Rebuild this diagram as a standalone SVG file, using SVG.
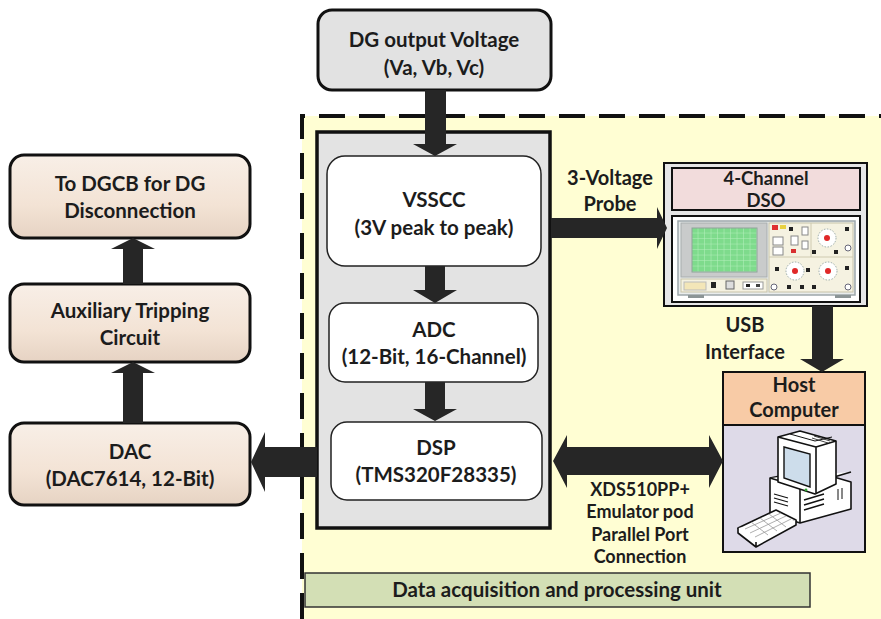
<svg xmlns="http://www.w3.org/2000/svg" width="881" height="619" viewBox="0 0 881 619">
  <style>
    .t { font-family: Lato, "Open Sans", "Liberation Sans", sans-serif; font-weight: bold; font-size: 20.5px; fill: #1c1c1c; text-anchor: middle; }
    .tl { font-family: Lato, "Open Sans", "Liberation Sans", sans-serif; font-weight: bold; font-size: 20px; fill: #1c1c1c; text-anchor: middle; }
    .td { font-family: Lato, "Open Sans", "Liberation Sans", sans-serif; font-weight: bold; font-size: 18.5px; fill: #1c1c1c; text-anchor: middle; }
    .ts { font-family: Lato, "Open Sans", "Liberation Sans", sans-serif; font-weight: bold; font-size: 18px; fill: #1c1c1c; text-anchor: middle; }
    .outer { stroke: #111; stroke-width: 3; }
    .inner { fill: #fff; stroke: #222; stroke-width: 1.5; }
    .arrow { fill: #262626; }
    .icon { fill: #fff; stroke: #111; stroke-width: 1.6; stroke-linejoin: round; }
  </style>
  <defs>
    <linearGradient id="beige" x1="0" y1="0" x2="0" y2="1">
      <stop offset="0" stop-color="#F8EFE7"/>
      <stop offset="0.6" stop-color="#F3E3D5"/>
      <stop offset="1" stop-color="#E6D3C3"/>
    </linearGradient>
    <pattern id="grid" x="692" y="228" width="6.5" height="5.5" patternUnits="userSpaceOnUse">
      <rect width="6.5" height="5.5" fill="#7EDB8C"/>
      <path d="M6.5 0V5.5M0 5.5H6.5" stroke="#B6F0BE" stroke-width="1"/>
    </pattern>
  </defs>

  <rect width="881" height="619" fill="#fff"/>

  <!-- data acquisition region -->
  <g id="daq-region">
    <rect x="302" y="116" width="579" height="503" fill="#FFFED3"/>
    <path d="M302 619V116H881" fill="none" stroke="#111" stroke-width="4" stroke-dasharray="26 14"/>
  </g>

  <g id="daq-label">
    <rect x="305" y="573" width="505" height="34" fill="#D3DFB5" stroke="#333" stroke-width="1.5"/>
    <text class="t" x="557" y="597">Data acquisition and processing unit</text>
  </g>

  <g id="dg-output">
    <rect class="outer" x="318" y="10" width="233" height="80" rx="14" fill="#E2E2E2"/>
    <text class="t" x="434" y="47">DG output Voltage</text>
    <text class="t" x="434" y="75">(Va, Vb, Vc)</text>
  </g>

  <g id="controller">
    <rect x="317" y="132" width="233" height="396" fill="#E3E3E3" stroke="#111" stroke-width="3.5"/>
  </g>

  <g id="vsscc">
    <rect class="inner" x="327" y="156" width="214" height="110" rx="18"/>
    <text class="t" x="434" y="207">VSSCC</text>
    <text class="t" x="434" y="235">(3V peak to peak)</text>
  </g>

  <g id="adc">
    <rect class="inner" x="329" y="303" width="209" height="79" rx="16"/>
    <text class="t" x="434" y="337">ADC</text>
    <text class="t" x="434" y="364">(12-Bit, 16-Channel)</text>
  </g>

  <g id="dsp">
    <rect class="inner" x="331" y="422" width="211" height="78" rx="16"/>
    <text class="t" x="436" y="455">DSP</text>
    <text class="t" x="436" y="482">(TMS320F28335)</text>
  </g>

  <g id="dgcb">
    <rect class="outer" x="10" y="155" width="240" height="83" rx="14" fill="url(#beige)"/>
    <text class="t" x="130" y="191">To DGCB for DG</text>
    <text class="t" x="130" y="218">Disconnection</text>
  </g>

  <g id="aux-trip">
    <rect class="outer" x="10" y="284" width="240" height="78" rx="14" fill="url(#beige)"/>
    <text class="t" x="130" y="318">Auxiliary Tripping</text>
    <text class="t" x="130" y="345">Circuit</text>
  </g>

  <g id="dac">
    <rect class="outer" x="10" y="423" width="240" height="82" rx="14" fill="url(#beige)"/>
    <text class="t" x="130" y="459">DAC</text>
    <text class="t" x="130" y="486">(DAC7614, 12-Bit)</text>
  </g>

  <g id="dso">
    <rect x="664" y="163" width="203" height="143" fill="#E6E6E6" stroke="#111" stroke-width="2"/>
    <rect x="672" y="168" width="188" height="42" fill="#F2DCDC" stroke="#111" stroke-width="2"/>
    <text class="td" x="766" y="185">4-Channel</text>
    <text class="td" x="766" y="207">DSO</text>
    <rect x="672" y="216" width="188" height="86" fill="#fff" stroke="#111" stroke-width="2"/>
    <!-- oscilloscope front panel -->
    <rect x="678" y="221" width="177" height="74" fill="#E9ECEC" stroke="#9DA7AA" stroke-width="1.5"/>
    <rect x="681" y="223" width="86" height="54" fill="#C9CBCB" stroke="#A8ADAE"/>
    <rect x="692" y="228" width="65" height="44" fill="url(#grid)" stroke="#8FA39A"/>
    <rect x="769" y="223" width="84" height="69" fill="#F5F2E1" stroke="#C8C3A8"/>
    <path d="M769 257H853M811 223V257" stroke="#CFCAB0" stroke-width="1"/>
    <rect x="681" y="279" width="86" height="13" fill="#F5F2E1" stroke="#C8C3A8"/>
    <rect x="684" y="282" width="22" height="8" fill="#F3E6B8" stroke="#BBB"/>
    <rect x="711" y="282" width="5" height="6" fill="#222"/>
    <rect x="726" y="281" width="8" height="8" fill="#DDD" stroke="#666"/>
    <rect x="743" y="282" width="20" height="7" fill="#fff" stroke="#999"/>
    <rect x="746" y="284" width="4" height="3" fill="#222"/>
    <rect x="756" y="284" width="4" height="3" fill="#444"/>
    <rect x="772" y="225" width="6" height="5" fill="#E03030"/>
    <rect x="780" y="225" width="6" height="4" fill="#E8D040"/>
    <rect x="789" y="227" width="4" height="4" fill="#222"/>
    <rect x="773" y="237" width="10" height="8" fill="#fff" stroke="#888"/>
    <rect x="773" y="247" width="10" height="8" fill="#fff" stroke="#888"/>
    <rect x="791" y="236" width="7" height="9" fill="#fff" stroke="#888"/>
    <rect x="791" y="249" width="5" height="4" fill="#D83030"/>
    <rect x="802" y="227" width="6" height="8" fill="#fff" stroke="#888"/>
    <rect x="802" y="241" width="6" height="8" fill="#fff" stroke="#888"/>
    <rect x="812" y="250" width="4" height="4" fill="#222"/>
    <rect x="845" y="227" width="4" height="4" fill="#222"/>
    <rect x="834" y="250" width="4" height="4" fill="#222"/>
    <rect x="775" y="267" width="4" height="4" fill="#222"/>
    <rect x="806" y="268" width="4" height="4" fill="#222"/>
    <rect x="845" y="266" width="4" height="4" fill="#222"/>
    <rect x="787" y="285" width="4" height="4" fill="#222"/>
    <rect x="800" y="285" width="4" height="4" fill="#222"/>
    <rect x="812" y="285" width="4" height="4" fill="#222"/>
    <circle cx="827" cy="238" r="9" fill="#fff" stroke="#9AA" stroke-dasharray="1.5 1.5"/>
    <circle cx="827" cy="238" r="3" fill="#E02828"/>
    <circle cx="795" cy="271" r="9" fill="#fff" stroke="#9AA" stroke-dasharray="1.5 1.5"/>
    <circle cx="795" cy="271" r="3" fill="#E02828"/>
    <circle cx="828" cy="271" r="9" fill="#fff" stroke="#9AA" stroke-dasharray="1.5 1.5"/>
    <circle cx="828" cy="271" r="3" fill="#E02828"/>
    <circle cx="848" cy="248" r="3" fill="#fff" stroke="#667"/>
    <circle cx="774" cy="287" r="3" fill="#fff" stroke="#667"/>
    <circle cx="848" cy="287" r="3" fill="#fff" stroke="#667"/>
    <rect x="688" y="295" width="16" height="3" fill="#8C9596"/>
    <rect x="835" y="295" width="16" height="3" fill="#8C9596"/>
  </g>

  <g id="host">
    <rect x="723" y="372" width="142" height="180" fill="#DEDAE8" stroke="#111" stroke-width="2"/>
    <rect x="723" y="372" width="142" height="53" fill="#F8CBA6" stroke="#111" stroke-width="2"/>
    <text class="tl" x="794" y="392">Host</text>
    <text class="tl" x="794" y="417">Computer</text>
    <!-- desktop computer icon -->
    <path class="icon" d="M770 478L810 470L851 482V509L800 523L770 513Z"/>
    <path class="icon" d="M770 478L800 487L851 472M800 487V523"/>
    <path d="M774 494L788 498M774 498L788 502M774 502L788 506" stroke="#111" stroke-width="1.2"/>
    <path d="M804 500L824 494M804 505L824 499M804 510L824 504" stroke="#111" stroke-width="1.5"/>
    <path d="M838 489V500M842 488V499" stroke="#111" stroke-width="1"/>
    <path class="icon" d="M778 437L800 431L836 441V484L815 494L778 482Z"/>
    <path class="icon" d="M778 437L816 447V494M816 447L836 441"/>
    <path d="M790 434L815 441L832 437" fill="none" stroke="#111" stroke-width="1"/>
    <path d="M812 438L828 443M814 436L830 441" stroke="#111" stroke-width="0.8"/>
    <path d="M784 447L810 454V487L784 478Z" fill="#CDDDEB" stroke="#111" stroke-width="1.4"/>
    <circle cx="806" cy="490" r="1.4" fill="#3a3"/>
    <path class="icon" d="M738 528L776 510L796 520L756 542Z"/>
    <path class="icon" d="M738 528V533L756 547L796 525V520M756 542V547"/>
    <path d="M745 529L781 513M750 533L786 516M755 537L791 519M751 522L768 535M760 518L777 531M769 514L786 527" stroke="#999" stroke-width="0.8"/>
  </g>

  <!-- connectors -->
  <g id="connectors">
    <polygon class="arrow" points="425,90 446,90 446,144 457,144 435,156 413,144 425,144"/>
    <polygon class="arrow" points="425,266 445,266 445,290 457,290 435,303 413,290 425,290"/>
    <polygon class="arrow" points="425,382 445,382 445,409 457,409 435,421 413,409 425,409"/>
    <polygon class="arrow" points="123,284 143,284 143,249 155,249 133,238 111,249 123,249"/>
    <polygon class="arrow" points="123,423 143,423 143,373 155,373 133,362 111,373 123,373"/>
    <polygon class="arrow" points="317,447 317,477 265,477 265,492 251,462 265,432 265,447"/>
    <polygon class="arrow" points="551,218 657,218 657,207 667,228 657,249 657,238 551,238"/>
    <polygon class="arrow" points="553,461 567,435 567,447 709,447 709,435 723,461 709,488 709,475 567,475 567,488"/>
    <polygon class="arrow" points="812,306 833,306 833,359 844,359 822,372 800,359 812,359"/>
  </g>

  <g id="labels">
    <text class="tl" x="610" y="185">3-Voltage</text>
    <text class="tl" x="610" y="211">Probe</text>
    <text class="tl" x="745" y="332">USB</text>
    <text class="tl" x="745" y="359">Interface</text>
    <text class="ts" x="640" y="496">XDS510PP+</text>
    <text class="ts" x="640" y="518">Emulator pod</text>
    <text class="ts" x="640" y="541">Parallel Port</text>
    <text class="ts" x="640" y="563">Connection</text>
  </g>
</svg>
